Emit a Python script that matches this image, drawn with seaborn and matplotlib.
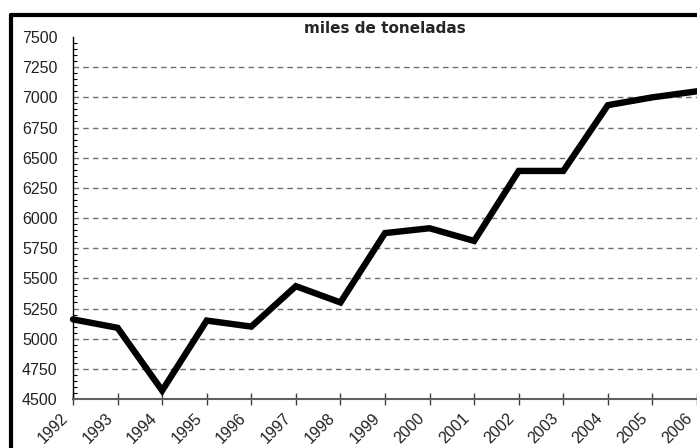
import pandas as pd
import matplotlib.pyplot as plt
import seaborn as sns
from matplotlib.lines import Line2D
from matplotlib.ticker import MultipleLocator
from matplotlib.transforms import ScaledTranslation

# datos (miles de toneladas)
years = [1992, 1993, 1994, 1995, 1996, 1997, 1998, 1999,
         2000, 2001, 2002, 2003, 2004, 2005, 2006]
values = [5160, 5090, 4570, 5150, 5100, 5435, 5300, 5875,
          5915, 5810, 6390, 6390, 6935, 7000, 7050]
y_ticks = [4500, 4750, 5000, 5250, 5500, 5750, 6000, 6250,
           6500, 6750, 7000, 7250, 7500]
title = "miles de toneladas"

df = pd.DataFrame({"anio": years, "valor": values})

sns.set_style("white")
plt.rcParams['font.family'] = ['Liberation Sans', 'DejaVu Sans']

W, H = 697, 448
fig = plt.figure(figsize=(W / 100, H / 100), dpi=100)
ax = fig.add_axes([73 / W, 1 - 399 / H, 1 - 73 / W, (399 - 37) / H])

sns.lineplot(data=df, x="anio", y="valor", ax=ax, color="black",
             linewidth=4.6, solid_joinstyle="miter", clip_on=False)

ax.set_xlim(years[0], years[-1])
ax.set_ylim(y_ticks[0], y_ticks[-1])
ax.set_xticks(years)
ax.set_xticklabels([str(y) for y in years], rotation=45, ha="right",
                   va="top", rotation_mode="anchor", color="#222222",
                   fontsize=11.5)
ax.set_yticks(y_ticks)
ax.set_yticklabels([str(v) for v in y_ticks], color="#222222", fontsize=11.5)
ax.yaxis.set_minor_locator(MultipleLocator(50))

# rejilla discontinua (sin la linea de 4500 ni 7500)
for v in y_ticks[1:-1]:
    ax.axhline(v, color="#707070", linewidth=1, linestyle=(0, (4, 3)), zorder=0)

ax.set_xlabel("")
ax.set_ylabel("")
for s in ["top", "right"]:
    ax.spines[s].set_visible(False)
ax.spines["left"].set_color("black")
ax.spines["left"].set_linewidth(1)
ax.spines["bottom"].set_color("#606060")
ax.spines["bottom"].set_linewidth(1.5)

ax.tick_params(axis="y", which="major", direction="inout", length=8,
               width=1, color="black", pad=7)
ax.tick_params(axis="y", which="minor", direction="in", length=3,
               width=0.8, color="black", left=True)
ax.tick_params(axis="x", which="major", direction="inout", length=8,
               width=1, color="#404040", pad=6, bottom=True)

# desplazar etiquetas del eje x a la izquierda del tick (despues de tick_params)
off = ScaledTranslation(-9 / 72, 2 / 72, fig.dpi_scale_trans)
for lab in ax.xaxis.get_majorticklabels():
    lab.set_transform(lab.get_transform() + off)

ax.set_title(title, fontsize=11, fontweight="bold", family="DejaVu Sans",
             va="center")
ax.title.set_position((0.5, 1 + 8 / (399 - 37)))

# marco negro del grafico original (izquierda y arriba)
fig.add_artist(Line2D([11 / W, 11 / W], [0, 1 - 15 / H], color="black",
                      linewidth=3, transform=fig.transFigure))
fig.add_artist(Line2D([11 / W, 1], [1 - 15 / H, 1 - 15 / H], color="black",
                      linewidth=3, transform=fig.transFigure))

fig.savefig("out.png", dpi=100)
